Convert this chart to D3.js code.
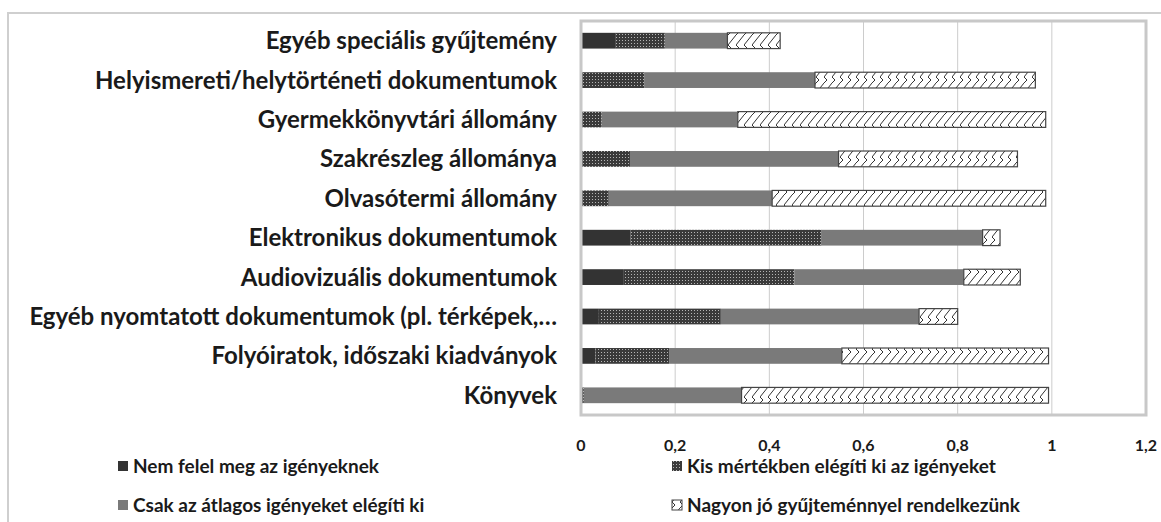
<!DOCTYPE html>
<html lang="hu">
<head>
<meta charset="utf-8" />
<title>Gyűjtemény</title>
<script src="https://d3js.org/d3.v7.min.js"></script>
<style>
  body { margin: 0; background: #fff; }
  text { font-family: Lato, "Open Sans", sans-serif; font-weight: bold; fill: #1a1a1a; }
</style>
</head>
<body>
<script>
// categories, top to bottom
const categories = [
  "Egyéb speciális gyűjtemény",
  "Helyismereti/helytörténeti dokumentumok",
  "Gyermekkönyvtári állomány",
  "Szakrészleg állománya",
  "Olvasótermi állomány",
  "Elektronikus dokumentumok",
  "Audiovizuális dokumentumok",
  "Egyéb nyomtatott dokumentumok (pl. térképek,…",
  "Folyóiratok, időszaki kiadványok",
  "Könyvek"
];
const seriesNames = [
  "Nem felel meg az igényeknek",
  "Kis mértékben elégíti ki az igényeket",
  "Csak az átlagos igényeket elégíti ki",
  "Nagyon jó gyűjteménnyel rendelkezünk"
];
const nemFelel  = [0.074, 0,     0,     0,     0,     0.105, 0.091, 0.038, 0.031, 0];
const kisMertek = [0.104, 0.134, 0.044, 0.104, 0.059, 0.406, 0.362, 0.259, 0.156, 0.006];
const atlagos   = [0.133, 0.363, 0.289, 0.443, 0.347, 0.342, 0.360, 0.421, 0.367, 0.335];
const nagyonJo  = [0.112, 0.468, 0.654, 0.380, 0.581, 0.037, 0.120, 0.082, 0.439, 0.652];
const xTicks = [0, 0.2, 0.4, 0.6, 0.8, 1, 1.2];

const W = 1161, H = 522;
const plot = { left: 581, right: 1146, top: 21, bottom: 415 };

const svg = d3.select("body").append("svg")
  .attr("width", W).attr("height", H);

// patterns
const defs = svg.append("defs");
const dots = defs.append("pattern").attr("id", "dots")
  .attr("patternUnits", "userSpaceOnUse").attr("width", 3).attr("height", 3);
dots.append("rect").attr("width", 3).attr("height", 3).attr("fill", "#3a3a3a");
dots.append("rect").attr("x", 1).attr("y", 1).attr("width", 1).attr("height", 1).attr("fill", "#b5b5b5");

const zig = defs.append("pattern").attr("id", "zig")
  .attr("patternUnits", "userSpaceOnUse").attr("width", 8).attr("height", 16);
zig.append("rect").attr("width", 8).attr("height", 16).attr("fill", "#fff");
zig.append("path").attr("d", "M0,13 L8,3 M0,3 L3,0 M0,13 L3,16")
  .attr("stroke", "#333").attr("stroke-width", 1).attr("fill", "none");

const fills = ["#333333", "url(#dots)", "#7a7a7a", "url(#zig)"];

// outer chart border
svg.append("path")
  .attr("d", `M8,${H} L8,13 L${W},13`)
  .attr("fill", "none").attr("stroke", "#cfcfcf").attr("stroke-width", 2);

const x = d3.scaleLinear().domain([0, 1.2]).range([plot.left, plot.right]);
const y = d3.scaleBand().domain(categories)
  .range([plot.top, plot.bottom]).paddingInner(0.6).paddingOuter(0.3);

// gridlines
svg.append("g").selectAll("line").data(xTicks.slice(1, -1)).join("line")
  .attr("x1", d => x(d)).attr("x2", d => x(d))
  .attr("y1", plot.top).attr("y2", plot.bottom)
  .attr("stroke", "#cccccc").attr("stroke-width", 1);

// stacked data
const rows = categories.map((c, i) => ({
  cat: c, v0: nemFelel[i], v1: kisMertek[i], v2: atlagos[i], v3: nagyonJo[i]
}));
const stack = d3.stack().keys(["v0", "v1", "v2", "v3"])(rows);

svg.append("g").selectAll("g").data(stack).join("g")
  .attr("fill", (d, i) => fills[i])
  .attr("stroke", (d, i) => i === 3 ? "#444" : "none")
  .attr("stroke-width", 1.2)
  .selectAll("rect").data(d => d.filter(s => s[1] - s[0] > 0)).join("rect")
  .attr("x", d => x(d[0]))
  .attr("width", d => x(d[1]) - x(d[0]))
  .attr("y", d => y(d.data.cat))
  .attr("height", y.bandwidth());

// plot frame
svg.append("rect")
  .attr("x", plot.left).attr("y", plot.top)
  .attr("width", plot.right - plot.left).attr("height", plot.bottom - plot.top)
  .attr("fill", "none").attr("stroke", "#c8c8c8").attr("stroke-width", 3);

// category labels
svg.append("g").selectAll("text").data(categories).join("text")
  .attr("x", 557).attr("y", d => y(d) + y.bandwidth() / 2)
  .attr("dy", "0.35em").attr("text-anchor", "end")
  .style("font-size", "24px")
  .text(d => d);

// x tick labels
const fmt = d => String(d).replace(".", ",");
svg.append("g").selectAll("text").data(xTicks).join("text")
  .attr("x", d => x(d)).attr("y", 445)
  .attr("dy", "0.35em").attr("text-anchor", "middle")
  .style("font-size", "16px")
  .text(fmt);

// legend
const legendPos = [[118, 466], [672, 466], [118, 505], [672, 505]];
const lg = svg.append("g").selectAll("g").data(seriesNames).join("g")
  .attr("transform", (d, i) => `translate(${legendPos[i][0]},${legendPos[i][1]})`);
lg.append("rect").attr("x", 0).attr("y", -5).attr("width", 10).attr("height", 10)
  .attr("fill", (d, i) => fills[i])
  .attr("stroke", (d, i) => i === 3 ? "#444" : "none");
lg.append("text").attr("x", 15).attr("dy", "0.35em")
  .style("font-size", "19px").text(d => d);
</script>
</body>
</html>
